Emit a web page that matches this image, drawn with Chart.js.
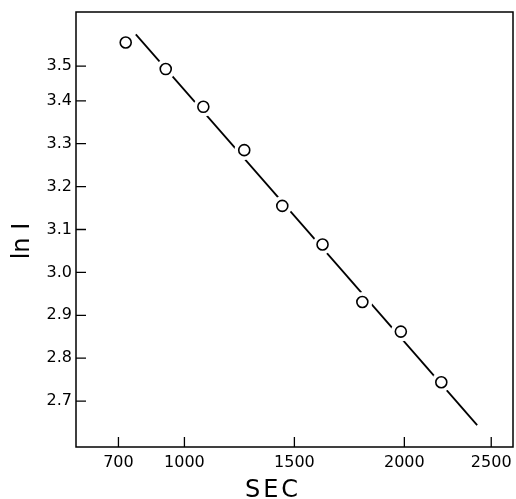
<!DOCTYPE html>
<html>
<head>
<meta charset="utf-8">
<script src="https://cdn.jsdelivr.net/npm/chart.js@4/dist/chart.umd.min.js"></script>
<style>
  html, body { margin: 0; padding: 0; background: #fff; }
  #c { display: block; }
</style>
</head>
<body>
<canvas id="c" width="516" height="499"></canvas>
<script>
// ---- data ----
const timeSec = [733, 915, 1086, 1272, 1445, 1628, 1809, 1984, 2168];
const lnI     = [3.536, 3.474, 3.386, 3.285, 3.155, 3.065, 2.931, 2.862, 2.744];
const fitLineX = [779, 2331];
const fitLineY = [3.555, 2.644];
const xTickValues = [700, 1000, 1500, 2000, 2395];
const xTickLabels = ['700', '1000', '1500', '2000', '2500'];
const yTickValues = [2.7, 2.8, 2.9, 3.0, 3.1, 3.2, 3.3, 3.4, 3.481];
const yTickLabels = ['2.7', '2.8', '2.9', '3.0', '3.1', '3.2', '3.3', '3.4', '3.5'];
const xTitle = 'SEC';
const yTitle = 'ln I';

const points = timeSec.map((t, i) => ({ x: t, y: lnI[i] }));
const fitLine = fitLineX.map((t, i) => ({ x: t, y: fitLineY[i] }));

Chart.defaults.font.family = 'DejaVu Sans';
Chart.defaults.color = '#000';

const framePlugin = {
  id: 'frame',
  beforeDatasetsDraw(chart) {
    const { ctx, chartArea: a, scales } = chart;
    ctx.save();
    ctx.strokeStyle = '#000';
    ctx.lineWidth = 1.5;
    ctx.strokeRect(a.left, a.top, a.right - a.left, a.bottom - a.top);
    ctx.lineWidth = 1.3;
    ctx.beginPath();
    scales.x.ticks.forEach(t => {
      const px = scales.x.getPixelForValue(t.value);
      ctx.moveTo(px, a.bottom);
      ctx.lineTo(px, a.bottom - 10);
    });
    scales.y.ticks.forEach(t => {
      const py = scales.y.getPixelForValue(t.value);
      ctx.moveTo(a.left, py);
      ctx.lineTo(a.left + 10, py);
    });
    ctx.stroke();
    ctx.restore();
  },
  afterDraw(chart) {
    const { ctx, chartArea: a } = chart;
    ctx.save();
    ctx.fillStyle = '#000';
    ctx.font = '24px "DejaVu Sans"';
    ctx.textAlign = 'center';
    ctx.textBaseline = 'alphabetic';
    try { ctx.letterSpacing = '3px'; } catch (e) {}
    ctx.fillText(xTitle, a.left + 197, a.bottom + 50);
    try { ctx.letterSpacing = '0px'; } catch (e) {}
    ctx.translate(29, a.top + 229);
    ctx.rotate(-Math.PI / 2);
    ctx.fillText(yTitle, 0, 0);
    ctx.restore();
  }
};

new Chart(document.getElementById('c'), {
  type: 'scatter',
  data: {
    datasets: [
      {
        type: 'scatter',
        data: points,
        pointRadius: 5.5,
        pointBorderWidth: 1.6,
        pointBorderColor: '#000',
        pointBackgroundColor: '#fff',
        order: 0
      },
      {
        type: 'scatter',
        data: points,
        pointRadius: 10,
        pointBorderWidth: 0,
        pointBorderColor: 'rgba(0,0,0,0)',
        pointBackgroundColor: '#fff',
        order: 1
      },
      {
        type: 'line',
        data: fitLine,
        borderColor: '#000',
        borderWidth: 1.8,
        pointRadius: 0,
        fill: false,
        order: 2
      }
    ]
  },
  options: {
    responsive: false,
    animation: false,
    devicePixelRatio: 1,
    layout: { autoPadding: false, padding: { left: 0, right: 3, top: 12, bottom: 0 } },
    plugins: { legend: { display: false }, tooltip: { enabled: false } },
    scales: {
      x: {
        type: 'linear',
        min: 507,
        max: 2494,
        grid: { display: false, drawTicks: false },
        border: { display: false },
        afterBuildTicks(scale) { scale.ticks = xTickValues.map(v => ({ value: v })); },
        afterFit(scale) {
          scale.height = 52;
          scale.paddingLeft = 0; scale.paddingRight = 0;
          scale.paddingTop = 0; scale.paddingBottom = 0;
        },
        ticks: {
          autoSkip: false,
          maxRotation: 0,
          padding: 6,
          color: '#000',
          font: { size: 16 },
          callback: (v, i) => xTickLabels[i]
        }
      },
      y: {
        type: 'linear',
        min: 2.593,
        max: 3.607,
        grid: { display: false, drawTicks: false },
        border: { display: false },
        afterBuildTicks(scale) { scale.ticks = yTickValues.map(v => ({ value: v })); },
        afterFit(scale) {
          scale.width = 76;
          scale.paddingLeft = 0; scale.paddingRight = 0;
          scale.paddingTop = 0; scale.paddingBottom = 0;
        },
        ticks: {
          autoSkip: false,
          padding: 4,
          color: '#000',
          font: { size: 16 },
          callback: (v, i) => yTickLabels[i]
        }
      }
    }
  },
  plugins: [framePlugin]
});
</script>
</body>
</html>
